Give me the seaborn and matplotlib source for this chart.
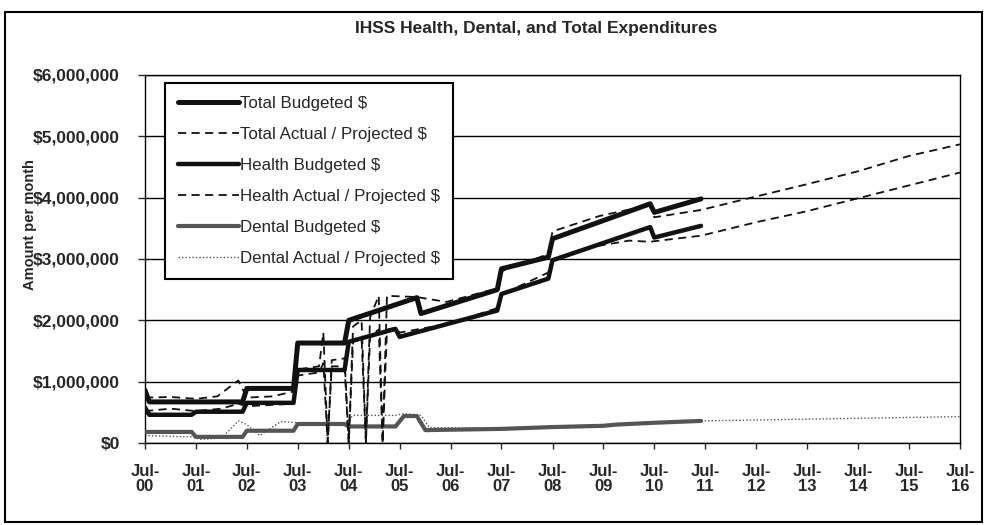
import pandas as pd
import matplotlib
matplotlib.use("Agg")
import matplotlib.pyplot as plt
import matplotlib.dates as mdates
from matplotlib.patches import Rectangle
from matplotlib.ticker import FuncFormatter
import seaborn as sns

# ---------------------------------------------------------------
# data (monthly break points, dollars per month)
# ---------------------------------------------------------------
total_budget_months = ["2000-07", "2000-08", "2002-06", "2002-07", "2003-06", "2003-07",
                       "2004-06", "2004-07", "2005-11", "2005-12", "2007-06", "2007-07",
                       "2008-06", "2008-07", "2010-06", "2010-07", "2011-06"]
total_budget = [860000, 670000, 670000, 890000, 890000, 1630000,
                1630000, 2000000, 2370000, 2110000, 2500000, 2840000,
                3030000, 3330000, 3900000, 3760000, 3980000]

total_actual_months = ["2000-07", "2001-01", "2001-07", "2001-12", "2002-05", "2002-07",
                       "2003-01", "2003-06", "2003-07", "2003-12", "2004-01", "2004-02",
                       "2004-03", "2004-06", "2004-07", "2004-08", "2004-10", "2004-11",
                       "2004-12", "2005-02", "2005-03", "2005-04", "2005-11", "2006-06",
                       "2007-06", "2007-07", "2008-06", "2008-07", "2009-06", "2010-06",
                       "2010-07", "2011-06", "2012-07", "2013-07", "2014-07", "2015-07",
                       "2016-07"]
total_actual = [740000, 750000, 720000, 760000, 1020000, 740000,
                760000, 840000, 1200000, 1250000, 1800000, 0,
                1350000, 1380000, 0, 1900000, 2000000, 0,
                2050000, 2400000, 0, 2400000, 2380000, 2300000,
                2520000, 2800000, 3080000, 3450000, 3700000, 3880000,
                3680000, 3800000, 4020000, 4220000, 4430000, 4680000,
                4870000]

health_budget_months = ["2000-07", "2000-08", "2001-06", "2001-07", "2002-06", "2002-07",
                        "2003-06", "2003-07", "2004-06", "2004-07", "2005-06", "2005-07",
                        "2007-06", "2007-07", "2008-06", "2008-07", "2010-06", "2010-07",
                        "2011-06"]
health_budget = [580000, 460000, 460000, 510000, 510000, 655000,
                 655000, 1190000, 1190000, 1650000, 1860000, 1730000,
                 2160000, 2430000, 2680000, 2980000, 3520000, 3350000,
                 3540000]

health_actual_months = ["2000-07", "2001-01", "2001-07", "2002-01", "2002-05", "2002-07",
                        "2003-06", "2003-07", "2003-12", "2004-01", "2004-02", "2004-03",
                        "2004-06", "2004-07", "2004-08", "2004-10", "2004-11", "2004-12",
                        "2005-02", "2005-03", "2005-04", "2005-06", "2005-07", "2006-07",
                        "2007-06", "2007-07", "2008-06", "2008-07", "2009-03", "2010-01",
                        "2010-06", "2010-07", "2011-06", "2012-07", "2013-07", "2014-07",
                        "2015-07", "2016-07"]
health_actual = [520000, 560000, 520000, 560000, 640000, 600000,
                 640000, 1100000, 1150000, 1300000, 0, 1250000,
                 1250000, 0, 1650000, 1700000, 0, 1750000,
                 1850000, 0, 1850000, 1880000, 1800000, 1950000,
                 2200000, 2420000, 2780000, 3000000, 3180000, 3300000,
                 3280000, 3290000, 3380000, 3600000, 3780000, 3990000,
                 4200000, 4410000]

dental_budget_months = ["2000-07", "2001-06", "2001-07", "2002-06", "2002-07", "2003-06",
                        "2003-07", "2004-06", "2004-07", "2005-06", "2005-08", "2005-11",
                        "2006-01", "2007-07", "2008-07", "2009-07", "2009-10", "2010-07",
                        "2011-06"]
dental_budget = [180000, 180000, 100000, 100000, 200000, 200000,
                 310000, 310000, 270000, 270000, 440000, 440000,
                 210000, 230000, 260000, 280000, 300000, 330000,
                 360000]

dental_actual_months = ["2000-07", "2001-06", "2001-08", "2002-01", "2002-05", "2002-07",
                        "2002-10", "2003-03", "2003-07", "2004-06", "2004-08", "2005-06",
                        "2005-08", "2005-12", "2006-02", "2007-07", "2011-06", "2016-07"]
dental_actual = [120000, 100000, 60000, 80000, 360000, 300000,
                 120000, 350000, 330000, 310000, 450000, 450000,
                 480000, 450000, 250000, 240000, 360000, 430000]

tick_years = list(range(2000, 2017))
y_ticks = [0, 1000000, 2000000, 3000000, 4000000, 5000000, 6000000]

title = "IHSS Health, Dental, and Total Expenditures"
y_label = "Amount per month"

# ---------------------------------------------------------------
sns.set_style("ticks")
plt.rcParams["font.family"] = ["Liberation Sans", "DejaVu Sans"]

fig = plt.figure(figsize=(9.84, 5.25), dpi=100)
ax = fig.add_axes([145 / 984, 1 - 443 / 525, 815 / 984, 368 / 525])

dash = (0, (4.5, 3))
series = [
    # label, months, values, colour, width, style, z
    ("Total Budgeted $", total_budget_months, total_budget, "#111111", 3.6, "-", 4),
    ("Total Actual / Projected $", total_actual_months, total_actual, "#111111", 1.3, dash, 6),
    ("Health Budgeted $", health_budget_months, health_budget, "#111111", 3.2, "-", 4),
    ("Health Actual / Projected $", health_actual_months, health_actual, "#111111", 1.3, dash, 6),
    ("Dental Budgeted $", dental_budget_months, dental_budget, "#555555", 3.0, "-", 3),
    ("Dental Actual / Projected $", dental_actual_months, dental_actual, "#555555", 1.0, (0, (1, 1.5)), 2),
]

for label, months, vals, col, lw, ls, z in series:
    sns.lineplot(x=pd.to_datetime(months), y=vals, ax=ax, color=col, linewidth=lw,
                 linestyle=ls, label=label, errorbar=None, sort=False, zorder=z)

ax.set_xlim(pd.Timestamp("2000-07-01"), pd.Timestamp("2016-07-01"))
ax.set_ylim(0, 6000000)
ax.set_xticks([pd.Timestamp(f"{y}-07-01") for y in tick_years])
ax.xaxis.set_major_formatter(mdates.DateFormatter("%b-\n%y"))
ax.set_yticks(y_ticks)
ax.yaxis.set_major_formatter(FuncFormatter(lambda v, p: f"${v:,.0f}"))
ax.set_xlabel("")
ax.set_ylabel("")

ax.yaxis.grid(True, color="black", linewidth=1)
ax.set_axisbelow(True)
for s in ax.spines.values():
    s.set_visible(True)
    s.set_color("black")
    s.set_linewidth(1)

ax.tick_params(axis="y", direction="out", length=5, width=1, pad=13, labelsize=12.5)
ax.tick_params(axis="x", direction="out", length=4, width=1, pad=11, labelsize=12)
for t in ax.get_xticklabels() + ax.get_yticklabels():
    t.set_fontweight("bold")
for t in ax.get_xticklabels():
    t.set_linespacing(1.0)

leg = ax.legend(loc="upper left", bbox_to_anchor=((165 - 145) / 815, (443 - 83) / 368),
                borderaxespad=0, frameon=True, fancybox=False, edgecolor="black",
                framealpha=1, handlelength=3.6, handletextpad=0.1, labelspacing=0.95,
                borderpad=0.75, fontsize=12.2)
leg.get_frame().set_linewidth(1.5)

fig.text(536 / 984, 1 - 29 / 525, title, ha="center", va="center",
         fontsize=12.5, fontweight="bold")
fig.text(30 / 984, 1 - 225 / 525, y_label, rotation=90, ha="center", va="center",
         fontsize=10.5, fontweight="bold")

# chart area border
fig.add_artist(Rectangle((5 / 984, 3 / 525), 977 / 984, 510 / 525, transform=fig.transFigure,
                         fill=False, edgecolor="black", linewidth=1.5))

fig.savefig("out.png", dpi=100, facecolor="white")
